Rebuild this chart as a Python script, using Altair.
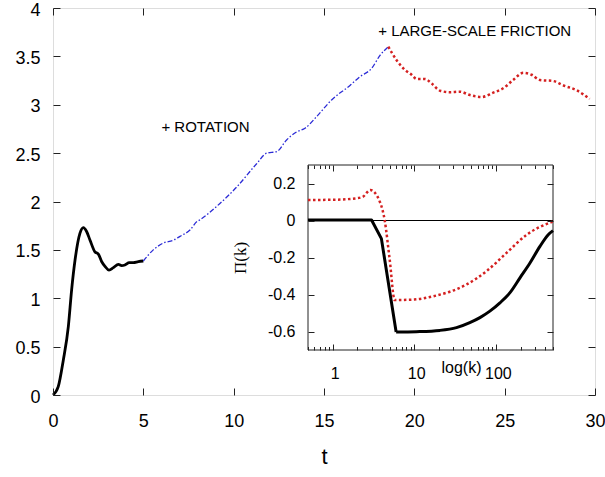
import altair as alt
import pandas as pd

# ---- Energy versus time: spin-up, then rotation, then large-scale friction ----
t_spin = [0.0, 0.29, 0.57, 0.85, 1.03, 1.22, 1.49, 1.68, 1.86, 2.05, 2.32, 2.51,
          2.69, 2.88, 3.10, 3.34, 3.62, 3.80, 3.98, 4.22, 4.45, 4.72, 5.0]
e_spin = [0.0, 0.086, 0.36, 0.71, 1.085, 1.395, 1.67, 1.73, 1.69, 1.60, 1.48, 1.457,
          1.38, 1.33, 1.29, 1.316, 1.35, 1.337, 1.344, 1.368, 1.368, 1.378, 1.385]

t_rot = [5.0, 5.55, 6.1, 6.66, 7.03, 7.58, 7.95, 8.13, 9.06, 10.17, 11.27, 11.83,
         12.38, 12.93, 13.49, 13.95, 14.59, 15.42, 16.44, 16.99, 17.64, 18.1, 18.56]
e_rot = [1.385, 1.50, 1.57, 1.60, 1.64, 1.705, 1.79, 1.81, 1.95, 2.15, 2.39, 2.50,
         2.515, 2.636, 2.72, 2.757, 2.877, 3.05, 3.20, 3.29, 3.377, 3.51, 3.60]

t_fric = [18.56, 19.02, 19.48, 19.85, 20.13, 20.59, 20.96, 21.42, 21.97, 22.52, 23.08,
          23.72, 24.37, 24.92, 25.47, 26.03, 26.49, 26.95, 27.69, 28.24, 28.98, 29.7]
e_fric = [3.60, 3.46, 3.36, 3.31, 3.266, 3.266, 3.22, 3.145, 3.13, 3.135, 3.10,
          3.08, 3.125, 3.17, 3.256, 3.33, 3.31, 3.256, 3.245, 3.20, 3.15, 3.06]

# ---- Energy flux Pi(k) (inset) ----
k_rot = [0.5, 1.0, 2.0, 3.0, 3.96, 6.0, 10.6, 20.6, 32.9, 47.9, 63.7, 84.3, 112.0,
         148.7, 197.0, 261.0, 346.0, 437.0, 500.0]
pi_rot = [0.003, 0.003, 0.003, 0.003, -0.098, -0.603, -0.601, -0.594, -0.579, -0.552,
          -0.525, -0.49, -0.445, -0.39, -0.31, -0.23, -0.14, -0.077, -0.055]
k_knee = 6.0  # sharp corners below this wavenumber, smooth roll-off above it

k_fric = [0.5, 1.0, 1.95, 2.36, 2.9, 3.8, 4.35, 5.0, 5.76, 6.0, 10.0, 16.9, 43.6,
          76.6, 135.0, 238.0, 500.0]
pi_fric = [0.111, 0.112, 0.12, 0.129, 0.165, 0.10, 0.0, -0.21, -0.43, -0.43, -0.427,
           -0.41, -0.346, -0.274, -0.175, -0.077, -0.005]

# ---- Annotations ----
note_text = ["+ ROTATION", "+ LARGE-SCALE FRICTION"]
note_t = [6.0, 18.0]
note_e = [2.77, 3.76]

# ---- Axes ----
t_domain = [0, 30]
e_domain = [0, 4]
t_ticks = [0, 5, 10, 15, 20, 25, 30]
e_ticks = [0, 0.5, 1, 1.5, 2, 2.5, 3, 3.5, 4]

k_domain = [0.5, 500]
pi_domain = [-0.7, 0.3]
k_major = [1, 10, 100]
k_minor = [0.5, 0.6, 0.7, 0.8, 0.9, 2, 3, 4, 5, 6, 7, 8, 9,
           20, 30, 40, 50, 60, 70, 80, 90, 200, 300, 400, 500]
pi_ticks = [-0.6, -0.4, -0.2, 0, 0.2]

# ---- Layout (pixels) ----
W, H = 542, 387
IX0, IX1 = 255, 500      # inset left / right inside the plot area
IY0, IY1 = 342, 157      # inset bottom / top inside the plot area
TM, TI, TIm = 7, 6, 3.5  # tick lengths: main, inset major, inset minor

FONT = "Liberation Sans"
BLACK = "#000000"
TICK = "#222222"
BLUE = "#2b2bd6"
RED = "#d42020"

df_spin = pd.DataFrame({"t": t_spin, "e": e_spin})
df_rot = pd.DataFrame({"t": t_rot, "e": e_rot})
df_fric = pd.DataFrame({"t": t_fric, "e": e_fric})
df_notes = pd.DataFrame({"t": note_t, "e": note_e, "label": note_text})
df_irot = pd.DataFrame({"k": k_rot, "pi": pi_rot})
df_ifric = pd.DataFrame({"k": k_fric, "pi": pi_fric})
df_frame = pd.DataFrame({"k0": [k_domain[0]], "k1": [k_domain[1]],
                         "p0": [pi_domain[0]], "p1": [pi_domain[1]]})
df_zero = pd.DataFrame({"k0": [k_domain[0]], "k1": [k_domain[1]], "pi": [0.0]})


def axis(**kw):
    base = dict(ticks=True, tickColor=TICK, tickWidth=1, domain=False, grid=False,
                labelFlush=False, labelOverlap=False, zindex=2)
    base.update(kw)
    return alt.Axis(**base)


def tx(ax=None):
    return alt.X("t:Q", scale=alt.Scale(domain=t_domain, nice=False, zero=False), axis=ax)


def ey(ax=None):
    return alt.Y("e:Q", scale=alt.Scale(domain=e_domain, nice=False, zero=False), axis=ax)


def kscale():
    return alt.Scale(type="log", domain=k_domain, range=[IX0, IX1], nice=False)


def piscale():
    return alt.Scale(domain=pi_domain, range=[IY0, IY1], nice=False, zero=False)


# main-plot axes, ticks pointing into the frame
ax_bottom = axis(orient="bottom", values=t_ticks, tickSize=TM, offset=-TM,
                 labelPadding=17, labelFontSize=18, format="~g",
                 title="t", titleFontSize=22, titleFontWeight="normal",
                 titleBaseline="alphabetic", titleY=75)
ax_left = axis(orient="left", values=e_ticks, tickSize=TM, offset=-TM,
               labelPadding=13, labelFontSize=18, labelOffset=2, format="~g", title=None)
ax_top = axis(orient="top", values=t_ticks, tickSize=TM, offset=-TM,
              labels=False, title=None)
ax_right = axis(orient="right", values=e_ticks, tickSize=TM, offset=-TM,
                labels=False, title=None)

# inset axes
iax_bottom = axis(orient="bottom", values=k_major, tickSize=TI,
                  offset=-(H - IY0) - TI, labelPadding=15, labelFontSize=16,
                  labelOffset=2, format="~g",
                  title="log(k)", titleFontSize=16, titleFontWeight="normal",
                  titleX=408, titleY=23, titleBaseline="middle", titleAlign="center")
iax_left = axis(orient="left", values=pi_ticks, tickSize=TI, offset=-(IX0 + TI),
                labelPadding=13, labelFontSize=16, format="~g",
                labelExpr="replace(datum.label, '\u2212', '-')",
                title="\u03a0(k)", titleFont="Liberation Serif", titleFontSize=17,
                titleFontWeight="normal", titleX=-74, titleBaseline="middle")
iax_top = axis(orient="top", values=k_major, tickSize=TI, offset=-(IY1 + TI),
               labels=False, title=None)
iax_right = axis(orient="right", values=pi_ticks, tickSize=TI,
                 offset=-(W - IX1) - TI, labels=False, title=None)
iax_bottom_minor = axis(orient="bottom", values=k_minor, tickSize=TIm,
                        offset=-(H - IY0) - TIm, labels=False, title=None)
iax_top_minor = axis(orient="top", values=k_minor, tickSize=TIm,
                     offset=-(IY1 + TIm), labels=False, title=None)

spin = alt.Chart(df_spin).mark_line(color=BLACK, strokeWidth=2.8, interpolate="monotone").encode(
    x=tx(ax_bottom), y=ey(ax_left))
rot = alt.Chart(df_rot).mark_line(color=BLUE, strokeWidth=1.3, strokeDash=[5, 2, 1.5, 2],
                                  interpolate="monotone").encode(x=tx(ax_top), y=ey(ax_right))
fric = alt.Chart(df_fric).mark_line(color=RED, strokeWidth=2.5, strokeDash=[2.5, 2.5],
                                    interpolate="monotone").encode(x=tx(), y=ey())
notes = alt.Chart(df_notes).mark_text(align="left", baseline="middle", font=FONT,
                                      fontSize=15, color=BLACK).encode(
    x=tx(), y=ey(), text="label:N")

frame = alt.Chart(df_frame).mark_rect(fill="white", stroke=TICK, strokeWidth=1).encode(
    x=alt.X("k0:Q", scale=kscale(), axis=iax_bottom_minor), x2="k1:Q",
    y=alt.Y("p0:Q", scale=piscale(), axis=None), y2="p1:Q")
zero = alt.Chart(df_zero).mark_rule(color=BLACK, strokeWidth=1).encode(
    x=alt.X("k0:Q", scale=kscale(), axis=iax_top_minor), x2="k1:Q",
    y=alt.Y("pi:Q", scale=piscale(), axis=iax_right))
# black flux curve: straight segments up to the knee, smooth afterwards
irot_low = alt.Chart(df_irot).transform_filter(f"datum.k <= {k_knee}").mark_line(
    color=BLACK, strokeWidth=3, strokeJoin="round").encode(
    x=alt.X("k:Q", scale=kscale(), axis=iax_bottom),
    y=alt.Y("pi:Q", scale=piscale(), axis=iax_left))
irot_high = alt.Chart(df_irot).transform_filter(f"datum.k >= {k_knee}").mark_line(
    color=BLACK, strokeWidth=3, interpolate="monotone").encode(
    x=alt.X("k:Q", scale=kscale(), axis=None),
    y=alt.Y("pi:Q", scale=piscale(), axis=None))
ifric = alt.Chart(df_ifric).mark_line(color=RED, strokeWidth=2.5, strokeDash=[2.5, 2.5],
                                      interpolate="monotone").encode(
    x=alt.X("k:Q", scale=kscale(), axis=iax_top),
    y=alt.Y("pi:Q", scale=piscale(), axis=None))

chart = (
    alt.layer(spin, rot, fric, notes, frame, zero, irot_low, irot_high, ifric)
    .resolve_scale(x="independent", y="independent")
    .properties(width=W, height=H,
                padding={"left": 53, "top": 8, "right": 10, "bottom": 82},
                autosize=alt.AutoSizeParams(type="none"))
    .configure_view(stroke=TICK, strokeWidth=1)
    .configure_axis(labelColor=BLACK, titleColor=BLACK, labelFont=FONT, titleFont=FONT)
    .configure(background="white")
)

chart.save("out.html", embed_options={"renderer": "svg", "actions": False})
